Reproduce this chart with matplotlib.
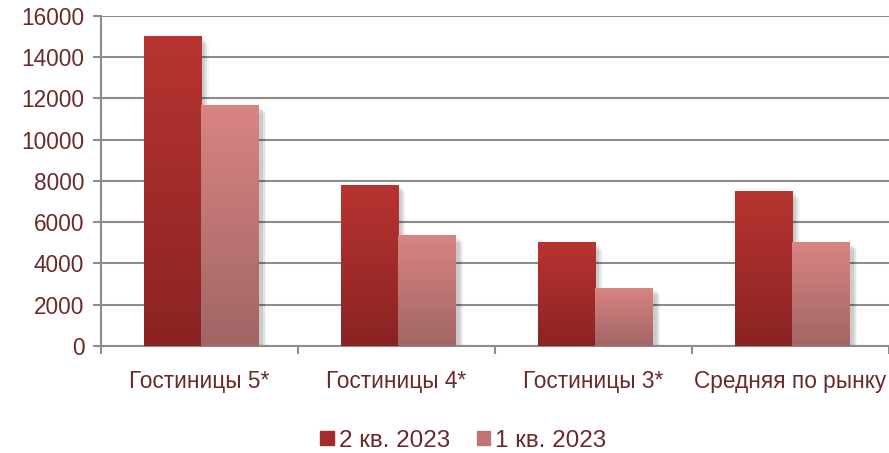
import numpy as np
import matplotlib.pyplot as plt
from matplotlib.colors import LinearSegmentedColormap

plt.rcParams['font.family'] = ['Liberation Sans', 'DejaVu Sans']

categories = ["Гостиницы 5*", "Гостиницы 4*", "Гостиницы 3*", "Средняя по рынку"]
q2_2023 = [15000, 7800, 5000, 7500]
q1_2023 = [11650, 5350, 2800, 5000]
series_names = ["2 кв. 2023", "1 кв. 2023"]

text_color = "#6b2a2a"
grid_color = "#8c8c8c"
dark_cmap = LinearSegmentedColormap.from_list("dark", ["#8a2323", "#b73431"])
light_cmap = LinearSegmentedColormap.from_list("light", ["#a16565", "#d98482"])

fig = plt.figure(figsize=(8.89, 4.53), dpi=100)
ax = fig.add_axes([0.1136, 0.2362, 0.8864, 0.7285])

x = np.arange(len(categories)) + 0.01
w = 0.29
bars1 = ax.bar(x - w / 2, q2_2023, w, color="none", zorder=3)
bars2 = ax.bar(x + w / 2, q1_2023, w, color="none", zorder=3)

grad = np.linspace(0, 1, 256).reshape(-1, 1)
for bars, cmap in [(bars1, dark_cmap), (bars2, light_cmap)]:
    for p in bars:
        x0, y0 = p.get_x(), p.get_y()
        bw, bh = p.get_width(), p.get_height()
        # soft shadow on the right side
        for i, a in enumerate([0.10, 0.07, 0.04]):
            ax.add_patch(plt.Rectangle((x0 + 0.02 + i * 0.01, y0), bw, bh - 150 - i * 100,
                                       color="black", alpha=a, lw=0, zorder=2))
        ax.imshow(grad, cmap=cmap, origin="lower", aspect="auto",
                  extent=[x0, x0 + bw, y0, y0 + bh], zorder=4)

ax.set_xlim(-0.5, 3.5)
ax.set_ylim(0, 16000)
ax.set_yticks(np.arange(0, 16001, 2000))
ax.yaxis.grid(True, color=grid_color, linewidth=1.5, zorder=0)
ax.set_axisbelow(True)

ax.set_xticks(np.arange(-0.5, 3.6, 1))
ax.set_xticklabels([])
ax.set_xticks(np.arange(len(categories)), minor=True)
ax.set_xticklabels(categories, minor=True)
ax.tick_params(axis="x", which="major", length=6, color=grid_color, width=1.5)
ax.tick_params(axis="x", which="minor", length=0, pad=17, labelsize=16.3, labelcolor=text_color)
ax.tick_params(axis="y", length=6, color=grid_color, width=1.5, labelsize=16.3, labelcolor=text_color, pad=6)

for s in ["top", "right"]:
    ax.spines[s].set_visible(False)
for s in ["left", "bottom"]:
    ax.spines[s].set_color(grid_color)
    ax.spines[s].set_linewidth(1.5)

handles = [plt.Rectangle((0, 0), 1, 1, color="#a42c2b"), plt.Rectangle((0, 0), 1, 1, color="#c07473")]
fig.legend(handles, series_names, loc="lower center", bbox_to_anchor=(0.521, -0.045), ncol=2,
           frameon=False, fontsize=17.5, labelcolor=text_color, handlelength=0.55, handleheight=0.55,
           handletextpad=0.2, columnspacing=1.1)

fig.savefig("out.png", dpi=100)
